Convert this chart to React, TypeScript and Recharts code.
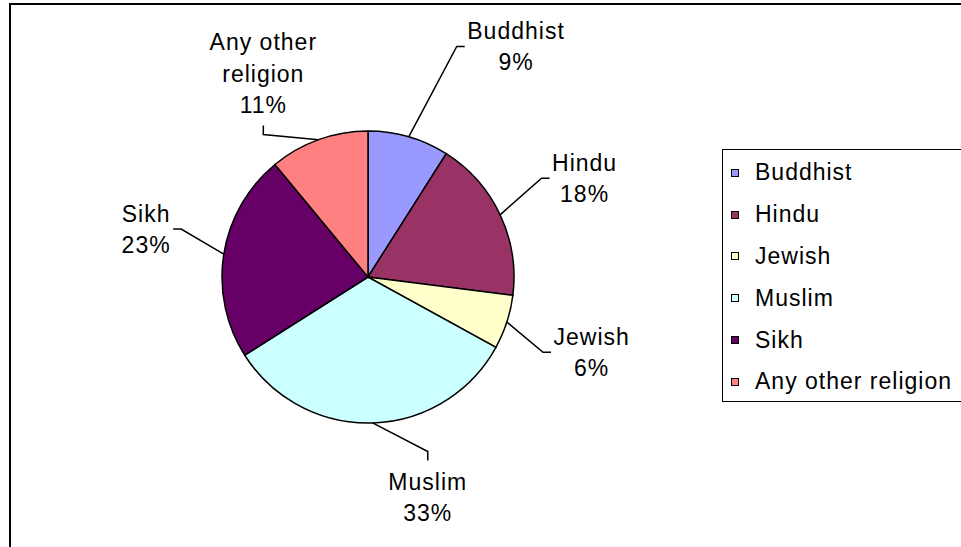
import React from 'react';
import { PieChart, Pie, Cell, Legend } from 'recharts';

const religions = ['Buddhist', 'Hindu', 'Jewish', 'Muslim', 'Sikh', 'Any other religion'];
const shares = [9, 18, 6, 33, 23, 11];
const sliceColors = ['#9999FF', '#993366', '#FFFFCC', '#CCFFFF', '#660066', '#FF8080'];

const chartData = religions.map((name, i) => ({ name, value: shares[i] }));

const FONT = "'Liberation Sans', Arial, sans-serif";
const FONT_SIZE = 23;
const LETTER_SPACING = 1;
const LINE_H = 31.5;
const RAD = Math.PI / 180;

// Excel's "best fit" pushed some labels off the plain radial spot:
// turn = extra clockwise degrees from the slice middle, radius = distance from the centre
const labelPlacement = [
  { turn: 16.5, radius: 274 },
  { turn: 0.7, radius: 238 },
  { turn: 0.6, radius: 236 },
  { turn: -13.4, radius: 228 },
  { turn: 3.2, radius: 227 },
  { turn: -7.4, radius: 229 },
];

let measureCtx: CanvasRenderingContext2D | null = null;
function textWidth(s: string) {
  if (!measureCtx) measureCtx = document.createElement('canvas').getContext('2d');
  if (!measureCtx) return s.length * FONT_SIZE * 0.55;
  measureCtx.font = `${FONT_SIZE}px 'Liberation Sans'`;
  return measureCtx.measureText(s).width + LETTER_SPACING * (s.length - 1);
}

function wrapName(name: string, maxChars = 10) {
  const lines: string[] = [];
  let cur = '';
  name.split(' ').forEach(w => {
    if (cur && (cur + ' ' + w).length > maxChars) {
      lines.push(cur);
      cur = w;
    } else {
      cur = cur ? cur + ' ' + w : w;
    }
  });
  if (cur) lines.push(cur);
  return lines;
}

const renderLabel = (props: any) => {
  const { cx, cy, midAngle, outerRadius, index, name, percent } = props;
  const mid = 90 - midAngle; // clockwise from 12 o'clock
  const place = labelPlacement[index];
  const t = (mid + place.turn) * RAD;
  const lx = cx + place.radius * Math.sin(t);
  const ly = cy - place.radius * Math.cos(t);
  const ex = cx + outerRadius * Math.sin(mid * RAD);
  const ey = cy - outerRadius * Math.cos(mid * RAD);

  const lines = [...wrapName(name), `${Math.round(percent * 100)}%`];
  const w = Math.max(...lines.map(textWidth));
  const h = lines.length * LINE_H;

  // leader ends on the side of the text block facing the slice
  const dx = ex - lx;
  const dy = ey - ly;
  let ax, ay, bx, by;
  if (Math.abs(dx) > Math.abs(dy)) {
    const s = Math.sign(dx);
    ax = lx + s * (w / 2 + 3);
    ay = ly;
    bx = ax + s * 8;
    by = ay;
  } else {
    const s = Math.sign(dy);
    ax = lx;
    ay = ly + s * (h / 2 + 5);
    bx = ax;
    by = ay + s * 9;
  }

  return (
    <g>
      <polyline
        points={`${ex},${ey} ${bx},${by} ${ax},${ay}`}
        fill="none"
        stroke="#000"
        strokeWidth={1.5}
      />
      <text
        textAnchor="middle"
        fontFamily={FONT}
        fontSize={FONT_SIZE}
        letterSpacing={LETTER_SPACING}
        fill="#000"
      >
        {lines.map((ln, i) => (
          <tspan key={i} x={lx} y={ly - h / 2 + LINE_H * (i + 0.5) + FONT_SIZE * 0.36}>
            {ln}
          </tspan>
        ))}
      </text>
    </g>
  );
};

// legend keeps the data order (Recharts would sort it by name)
const renderLegend = () => (
  <div
    style={{
      boxSizing: 'border-box',
      height: 253,
      border: '1.5px solid #000',
      background: '#fff',
      padding: '2px 0 0 8px',
      fontFamily: FONT,
      fontSize: FONT_SIZE,
      letterSpacing: LETTER_SPACING,
      color: '#000',
    }}
  >
    {religions.map((name, i) => (
      <div
        key={name}
        style={{ display: 'flex', alignItems: 'center', height: 41.8, whiteSpace: 'nowrap' }}
      >
        <span
          style={{
            boxSizing: 'border-box',
            width: 8,
            height: 8,
            flexShrink: 0,
            border: '1px solid #000',
            background: sliceColors[i],
            marginRight: 16,
          }}
        />
        <span style={{ lineHeight: 1 }}>{name}</span>
      </div>
    ))}
  </div>
);

export default function App() {
  return (
    <div
      style={{
        position: 'fixed',
        left: 0,
        top: 0,
        width: 961,
        height: 547,
        overflow: 'hidden',
        background: '#fff',
      }}
    >
      <div
        style={{
          position: 'absolute',
          left: 9,
          top: 3,
          width: 1100,
          height: 700,
          border: '2px solid #000',
        }}
      />
      <div style={{ position: 'absolute', left: 0, top: 0 }}>
        <PieChart width={961} height={547} margin={{ top: 0, right: 0, bottom: 0, left: 0 }}>
          <Pie
            data={chartData}
            dataKey="value"
            nameKey="name"
            cx={368}
            cy={277}
            outerRadius={146}
            startAngle={90}
            endAngle={-270}
            stroke="#000"
            strokeWidth={1.5}
            label={renderLabel}
            labelLine={false}
            isAnimationActive={false}
          >
            {chartData.map((d, i) => (
              <Cell key={d.name} fill={sliceColors[i]} />
            ))}
          </Pie>
          <Legend
            layout="vertical"
            align="right"
            verticalAlign="top"
            content={renderLegend}
            wrapperStyle={{ left: 722, right: 'auto', top: 149, width: 300 }}
          />
        </PieChart>
      </div>
    </div>
  );
}
